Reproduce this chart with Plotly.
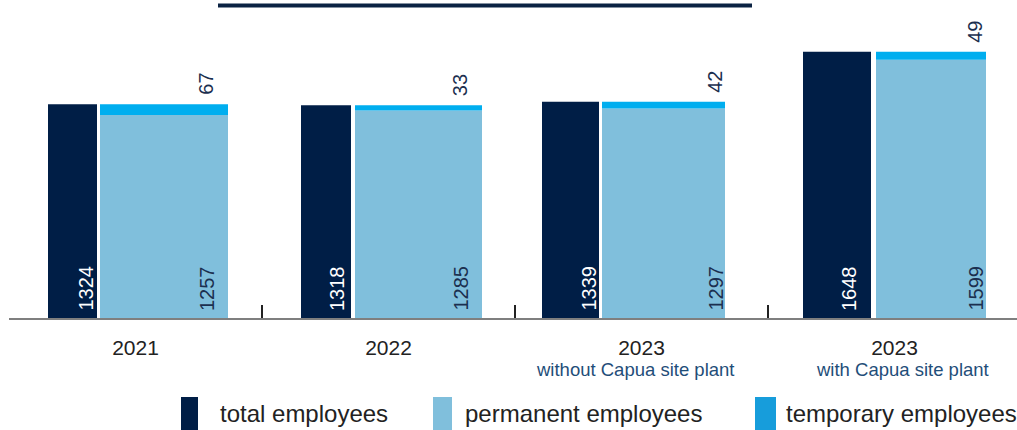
import numpy as np
import plotly.graph_objects as go

# ---- data ----
years = ["2021", "2022", "2023", "2023"]
subtitles = ["", "", "without Capua site plant", "with Capua site plant"]
total_employees = [1324, 1318, 1339, 1648]
permanent_employees = [1257, 1285, 1297, 1599]
temporary_employees = [67, 33, 42, 49]

# ---- style ----
NAVY = "#001e46"
LIGHT = "#80bfdc"
BRIGHT = "#00aeef"
LABEL_DARK = "#1b2f4f"
SUB_BLUE = "#1f4e79"
FONT = "Liberation Sans, Arial, sans-serif"

W, H = 1017, 430
ML, MB = 9, 112               # left / bottom margins (px)
PLOT_W, PLOT_H = W - ML, H - MB
CAT_PX = 253                  # width of one category slot (px)
Y_MAX = 1969

# bar edges relative to the category centre, in px
total_x0 = [-87.5, -87.5, -99.5, -91.5]
total_x1 = [-38.5, -37.5, -42.5, -23.5]
stack_x0 = [-35.5, -33.5, -39.5, -18.5]
stack_x1 = [92.5, 93.5, 83.5, 91.5]
# label centres relative to the category centre, in px
total_lbl_dx = [-50.5, -52, -53.5, -46]
stack_lbl_dx = [71, 71.5, 73.5, 80.5]
subtitle_dx = [0, 0, -7, 8]

idx = np.arange(len(years))
u = lambda v: np.asarray(v, dtype=float) / CAT_PX

total_off, total_w = u(total_x0), u(total_x1) - u(total_x0)
stack_off, stack_w = u(stack_x0), u(stack_x1) - u(stack_x0)

fig = go.Figure()
fig.add_bar(x=idx, y=total_employees, offset=total_off, width=total_w,
            marker=dict(color=NAVY, line=dict(width=0)), name="total employees")
fig.add_bar(x=idx, y=permanent_employees, base=0, offset=stack_off, width=stack_w,
            marker=dict(color=LIGHT, line=dict(width=0)), name="permanent employees")
fig.add_bar(x=idx, y=temporary_employees, base=permanent_employees,
            offset=stack_off, width=stack_w,
            marker=dict(color=BRIGHT, line=dict(width=0)), name="temporary employees")

annotations = []
lbl_font = 20
for i in idx:
    annotations.append(dict(
        x=i + total_lbl_dx[i] / CAT_PX, y=0, xref="x", yref="y",
        text=str(total_employees[i]), textangle=-90, showarrow=False,
        xanchor="center", yanchor="bottom", yshift=5,
        font=dict(family=FONT, size=lbl_font, color="white")))
    annotations.append(dict(
        x=i + stack_lbl_dx[i] / CAT_PX, y=0, xref="x", yref="y",
        text=str(permanent_employees[i]), textangle=-90, showarrow=False,
        xanchor="center", yanchor="bottom", yshift=5,
        font=dict(family=FONT, size=lbl_font, color=LABEL_DARK)))
    annotations.append(dict(
        x=i + stack_lbl_dx[i] / CAT_PX,
        y=permanent_employees[i] + temporary_employees[i], xref="x", yref="y",
        text=str(temporary_employees[i]), textangle=-90, showarrow=False,
        xanchor="center", yanchor="bottom", yshift=7,
        font=dict(family=FONT, size=lbl_font, color=LABEL_DARK)))
    if subtitles[i]:
        annotations.append(dict(
            x=i, y=-(369 - PLOT_H) / PLOT_H, xref="x", yref="paper",
            xshift=subtitle_dx[i],
            text=subtitles[i], showarrow=False, xanchor="center", yanchor="middle",
            font=dict(family=FONT, size=18.5, color=SUB_BLUE)))

# paper coordinate helpers for decorations outside the plot area
px_x = lambda p: (p - ML) / PLOT_W
px_y = lambda p: (PLOT_H - p) / PLOT_H

shapes = [dict(type="line", xref="paper", yref="paper",
               x0=px_x(218), x1=px_x(752), y0=px_y(5.5), y1=px_y(5.5),
               line=dict(color="#0b2243", width=4))]

# legend drawn as swatches + labels
legend_items = [("total employees", NAVY, 181, 198, 218),
                ("permanent employees", LIGHT, 433, 452, 463),
                ("temporary employees", "#179ddb", 755, 776, 784)]
for name, col, sx0, sx1, tx in legend_items:
    shapes.append(dict(type="rect", xref="paper", yref="paper",
                       x0=px_x(sx0), x1=px_x(sx1), y0=px_y(397), y1=px_y(432),
                       fillcolor=col, line=dict(width=0)))
    annotations.append(dict(x=px_x(tx), y=px_y(413), xref="paper", yref="paper",
                            text=name, showarrow=False, xanchor="left", yanchor="middle",
                            font=dict(family=FONT, size=24, color="#222222")))

fig.update_layout(
    width=W, height=H, barmode="overlay", showlegend=False,
    margin=dict(l=ML, r=0, t=0, b=MB, pad=0),
    plot_bgcolor="white", paper_bgcolor="white",
    font=dict(family=FONT),
    annotations=annotations, shapes=shapes,
    xaxis=dict(range=[-0.5, -0.5 + PLOT_W / CAT_PX], tickmode="array",
               tickvals=idx, ticktext=years, ticks="", showgrid=False, zeroline=False,
               showline=True, linecolor="#7f7f7f", linewidth=2,
               ticklabelstandoff=10,
               tickfont=dict(family=FONT, size=21, color="#222222"),
               minor=dict(tickmode="array", tickvals=[0.5, 1.5, 2.5], ticks="inside",
                          ticklen=13, tickwidth=2, tickcolor="#222222", showgrid=False)),
    yaxis=dict(range=[0, Y_MAX], visible=False, showgrid=False, zeroline=False),
)

fig.write_html("out.html")
